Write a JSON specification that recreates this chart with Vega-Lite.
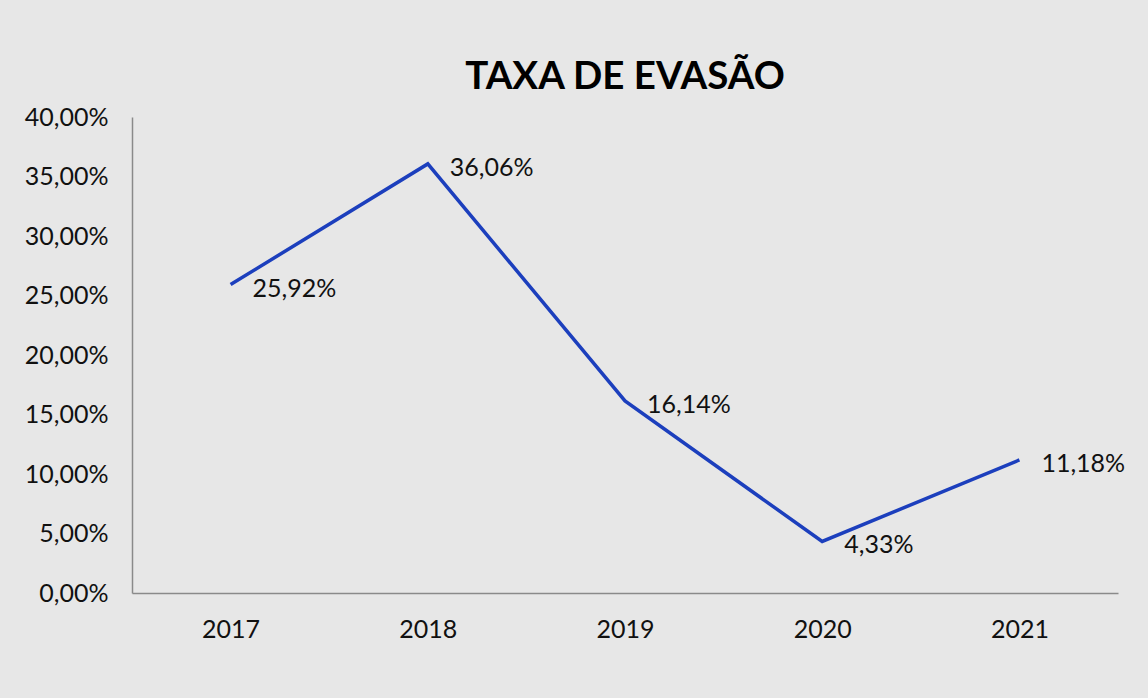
{
  "$schema": "https://vega.github.io/schema/vega-lite/v6.json",
  "autosize": "none",
  "width": 986,
  "height": 476,
  "padding": {"left": 132, "top": 117, "right": 30, "bottom": 105},
  "background": "#e7e7e7",
  "title": {
    "text": "TAXA DE EVASÃO",
    "font": "Lato",
    "fontSize": 38.5,
    "fontWeight": "bold",
    "color": "#000000",
    "anchor": "middle",
    "frame": "group",
    "baseline": "alphabetic",
    "offset": -22
  },
  "config": {
    "locale": {
      "number": {"decimal": ",", "thousands": ".", "grouping": [3], "currency": ["R$", ""]}
    },
    "view": {"stroke": null},
    "font": "Lato"
  },
  "data": {
    "values": [
      {"ano": "2017", "taxa": 0.2592},
      {"ano": "2018", "taxa": 0.3606},
      {"ano": "2019", "taxa": 0.1614},
      {"ano": "2020", "taxa": 0.0433},
      {"ano": "2021", "taxa": 0.1118}
    ]
  },
  "encoding": {
    "x": {
      "field": "ano",
      "type": "ordinal",
      "title": null,
      "axis": {
        "labelAngle": 0,
        "labelFont": "Lato",
        "labelFontSize": 25,
        "labelColor": "#111111",
        "labelPadding": 24,
        "ticks": false,
        "domainColor": "#8a8a8a",
        "domainWidth": 1.5,
        "grid": false
      }
    },
    "y": {
      "field": "taxa",
      "type": "quantitative",
      "title": null,
      "scale": {"domain": [0, 0.4], "nice": false},
      "axis": {
        "values": [0, 0.05, 0.1, 0.15, 0.2, 0.25, 0.3, 0.35, 0.4],
        "format": ".2%",
        "labelFont": "Lato",
        "labelFontSize": 25,
        "labelColor": "#111111",
        "labelPadding": 24,
        "ticks": false,
        "grid": false,
        "domainColor": "#8a8a8a",
        "domainWidth": 1.5
      }
    }
  },
  "layer": [
    {
      "mark": {"type": "line", "color": "#1c3fbd", "strokeWidth": 3.5}
    },
    {
      "mark": {"type": "text", "align": "left", "baseline": "middle", "dx": 22, "dy": 4, "font": "Lato", "fontSize": 25, "color": "#111111"},
      "encoding": {
        "text": {"field": "taxa", "type": "quantitative", "format": ".2%"}
      }
    }
  ]
}
